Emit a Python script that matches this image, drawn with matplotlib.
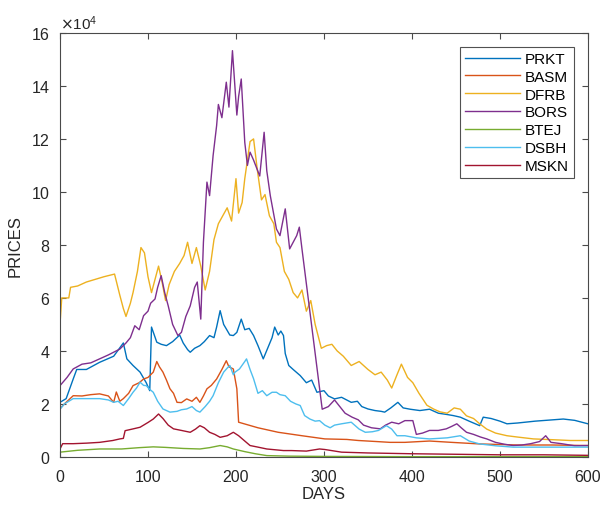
import matplotlib
matplotlib.use('Agg')
import matplotlib.pyplot as plt
from matplotlib.ticker import ScalarFormatter, MultipleLocator


# values, in units of 1e4
PRKT_DAYS = [0, 7, 15, 19, 30, 45, 61, 72, 76, 83, 91, 98, 102, 104, 110, 115, 121, 128,
             136, 140, 145, 148, 153, 159, 164, 170, 175, 178, 182, 186, 189, 193, 197,
             201, 206, 210, 215, 220, 225, 231, 236, 241, 244, 248, 251, 254, 256, 260,
             265, 273, 280, 286, 292, 300, 305, 312, 320, 331, 338, 343, 350, 358, 365,
             369, 376, 384, 390, 398, 409, 420, 430, 440, 447, 455, 465, 477, 481, 490,
             500, 508, 520, 540, 560, 572, 585, 600]
PRKT = [2.06, 2.2, 2.94, 3.3, 3.3, 3.57, 3.8, 4.3, 3.7, 3.45, 3.2, 2.8, 2.5, 4.9, 4.33,
        4.25, 4.2, 4.35, 4.6, 4.3, 4.05, 3.95, 4.1, 4.2, 4.35, 4.58, 4.5, 4.9, 5.52, 5.0,
        4.83, 4.6, 4.58, 4.7, 5.2, 4.8, 4.85, 4.58, 4.2, 3.7, 4.1, 4.5, 4.9, 4.6, 4.75,
        4.58, 3.9, 3.45, 3.3, 3.07, 2.8, 2.9, 2.44, 2.5, 2.3, 2.19, 2.25, 2.06, 2.1, 1.9,
        1.81, 1.75, 1.72, 1.69, 1.85, 2.06, 1.85, 1.8, 1.75, 1.8, 1.65, 1.6, 1.56, 1.5,
        1.35, 1.18, 1.5, 1.45, 1.35, 1.25, 1.28, 1.35, 1.4, 1.43, 1.38, 1.25]

BASM_DAYS = [0, 5, 15, 25, 35, 45, 55, 61, 64, 68, 72, 78, 83, 90, 95, 100, 106, 110, 113,
             117, 121, 125, 129, 133, 138, 144, 150, 155, 159, 163, 167, 172, 178, 184,
             189, 192, 197, 201, 203, 225, 248, 275, 301, 326, 339, 360, 375, 392, 420,
             445, 477, 520, 560, 600]
BASM = [1.82, 2.0, 2.31, 2.3, 2.35, 2.38, 2.3, 2.06, 2.45, 2.1, 2.2, 2.4, 2.69, 2.8, 2.94,
        3.0, 3.2, 3.6, 3.4, 3.2, 2.9, 2.57, 2.4, 2.06, 2.05, 2.19, 2.1, 2.25, 2.06, 2.3,
        2.57, 2.7, 2.94, 3.3, 3.63, 3.4, 3.32, 2.57, 1.31, 1.1, 0.93, 0.8, 0.68, 0.66,
        0.62, 0.58, 0.55, 0.55, 0.6, 0.55, 0.49, 0.45, 0.45, 0.43]

DFRB_DAYS = [0, 2, 10, 12, 20, 30, 40, 50, 62, 68, 72, 75, 80, 83, 88, 92, 96, 100, 104,
             108, 112, 116, 120, 124, 130, 136, 141, 145, 150, 155, 160, 165, 170, 175,
             180, 185, 190, 195, 200, 203, 207, 210, 216, 220, 224, 229, 233, 238, 243,
             246, 250, 255, 260, 265, 270, 275, 280, 285, 290, 297, 303, 309, 315, 322,
             331, 340, 350, 358, 365, 372, 377, 383, 388, 395, 401, 408, 417, 425, 432,
             440, 448, 455, 462, 470, 477, 485, 495, 508, 520, 538, 560, 580, 600]
DFRB = [5.0, 6.0, 6.0, 6.4, 6.45, 6.6, 6.7, 6.8, 6.9, 6.1, 5.6, 5.3, 5.8, 6.2, 7.0, 7.9,
        7.7, 6.8, 6.2, 6.7, 7.2, 6.6, 5.9, 6.5, 7.0, 7.3, 7.6, 8.1, 7.3, 7.9, 7.2, 6.3,
        7.0, 8.2, 8.8, 9.1, 9.4, 8.9, 10.5, 9.2, 9.6, 10.5, 11.9, 12.0, 10.9, 9.7, 9.9,
        9.1, 8.8, 8.1, 7.9, 7.0, 6.7, 6.2, 6.0, 6.3, 5.5, 5.9, 5.0, 4.1, 4.2, 4.25, 4.0,
        3.8, 3.45, 3.6, 3.3, 3.1, 3.2, 2.9, 2.6, 3.1, 3.5, 3.0, 2.8, 2.4, 1.95, 1.8, 1.7,
        1.65, 1.85, 1.8, 1.55, 1.45, 1.25, 1.05, 0.9, 0.8, 0.75, 0.68, 0.65, 0.62, 0.62]

BORS_DAYS = [0, 8, 15, 25, 35, 45, 55, 68, 75, 80, 85, 90, 95, 100, 103, 108, 111, 115,
             119, 123, 128, 134, 138, 143, 148, 153, 156, 160, 163, 167, 170, 174, 178,
             180, 184, 189, 192, 196, 201, 203, 206, 210, 213, 216, 220, 227, 232, 235,
             239, 246, 250, 256, 261, 269, 272, 275, 298, 305, 312, 318, 324, 332, 339,
             345, 354, 364, 370, 377, 385, 392, 401, 405, 412, 420, 430, 439, 445, 451,
             456, 462, 470, 478, 485, 495, 505, 515, 525, 535, 545, 552, 558, 570, 585, 600]
BORS = [2.69, 3.0, 3.32, 3.5, 3.55, 3.7, 3.85, 4.07, 4.3, 4.5, 4.95, 4.8, 5.33, 5.5, 5.8,
        5.96, 6.4, 6.84, 6.2, 5.7, 5.0, 4.58, 4.7, 5.3, 5.7, 6.4, 6.6, 5.2, 8.1, 10.37,
        9.86, 11.37, 12.5, 13.3, 12.8, 14.14, 13.2, 15.33, 12.9, 13.6, 14.26, 11.87,
        11.0, 11.5, 11.2, 10.6, 12.25, 10.8, 9.86, 8.6, 8.35, 9.36, 7.85, 8.35, 8.67,
        7.85, 1.8, 1.9, 2.15, 1.9, 1.65, 1.5, 1.4, 1.2, 1.1, 1.06, 1.2, 1.31, 1.25, 1.37,
        1.37, 0.85, 0.9, 1.0, 1.0, 1.06, 1.15, 1.25, 1.1, 0.93, 0.85, 0.75, 0.68, 0.55,
        0.48, 0.43, 0.45, 0.5, 0.58, 0.8, 0.55, 0.5, 0.42, 0.43]

BTEJ_DAYS = [0, 20, 45, 70, 90, 106, 120, 140, 159, 170, 182, 190, 197, 210, 222, 235,
             260, 300, 400, 500, 600]
BTEJ = [0.18, 0.25, 0.3, 0.3, 0.35, 0.38, 0.36, 0.32, 0.3, 0.35, 0.43, 0.38, 0.3, 0.2,
        0.12, 0.05, 0.03, 0.02, 0.01, 0.01, 0.01]

DSBH_DAYS = [0, 5, 15, 30, 45, 55, 61, 66, 72, 78, 83, 87, 91, 95, 98, 102, 106, 111, 117,
             121, 125, 133, 138, 144, 150, 155, 159, 165, 170, 174, 180, 186, 190, 193,
             197, 199, 204, 210, 212, 216, 220, 225, 230, 235, 241, 246, 250, 256, 262,
             268, 273, 278, 284, 290, 295, 301, 307, 312, 320, 331, 340, 347, 355, 362,
             371, 377, 383, 392, 405, 420, 440, 455, 465, 477, 495, 515, 550, 600]
DSBH = [1.8, 2.0, 2.2, 2.2, 2.2, 2.15, 2.06, 2.1, 1.94, 2.2, 2.44, 2.6, 2.82, 2.7, 2.69,
        2.55, 2.44, 2.1, 1.81, 1.75, 1.69, 1.72, 1.78, 1.81, 1.9, 1.75, 1.69, 1.9, 2.1,
        2.31, 2.8, 3.2, 3.35, 3.45, 3.1, 3.2, 3.32, 3.6, 3.7, 3.3, 2.95, 2.4, 2.5, 2.31,
        2.44, 2.44, 2.35, 2.31, 2.1, 2.0, 1.94, 1.56, 1.43, 1.35, 1.37, 1.2, 1.1, 1.2,
        1.25, 1.31, 1.05, 0.93, 0.95, 1.0, 1.18, 1.05, 0.8, 0.8, 0.72, 0.68, 0.72, 0.8,
        0.6, 0.49, 0.42, 0.37, 0.37, 0.37]

MSKN_DAYS = [0, 3, 15, 30, 45, 60, 68, 72, 74, 82, 91, 100, 106, 112, 117, 123, 129, 138,
             148, 154, 159, 164, 170, 176, 182, 190, 197, 203, 210, 216, 225, 235, 254,
             263, 280, 295, 301, 320, 350, 400, 450, 500, 550, 600]
MSKN = [0.3, 0.5, 0.5, 0.52, 0.55, 0.62, 0.68, 0.7, 0.99, 1.05, 1.12, 1.3, 1.43, 1.62,
        1.45, 1.2, 1.06, 1.0, 0.93, 1.05, 1.18, 1.1, 0.93, 0.85, 0.74, 0.8, 0.93, 0.8, 0.6,
        0.43, 0.37, 0.3, 0.24, 0.24, 0.22, 0.3, 0.28, 0.18, 0.15, 0.12, 0.1, 0.08, 0.08,
        0.06]

_SERIES = [
    ('PRKT', PRKT_DAYS, PRKT, '#0072BD'),
    ('BASM', BASM_DAYS, BASM, '#D95319'),
    ('DFRB', DFRB_DAYS, DFRB, '#EDB120'),
    ('BORS', BORS_DAYS, BORS, '#7E2F8E'),
    ('BTEJ', BTEJ_DAYS, BTEJ, '#77AC30'),
    ('DSBH', DSBH_DAYS, DSBH, '#4DBEEE'),
    ('MSKN', MSKN_DAYS, MSKN, '#A2142F'),
]

_AXIS_COLOR = '#4a4a4a'


def main():
    plt.rcParams['font.family'] = ['Liberation Sans', 'DejaVu Sans']

    fig = plt.figure(figsize=(6.03, 5.06), dpi=100)
    ax = fig.add_axes([0.0995, 0.095, 0.8755, 0.838])

    for name, days, vals, color in _SERIES:
        ax.plot(days, [v * 1e4 for v in vals], color=color, lw=1.0, label=name)

    ax.set_xlim(0, 600)
    ax.set_ylim(0, 16e4)
    ax.xaxis.set_major_locator(MultipleLocator(100))
    ax.yaxis.set_major_locator(MultipleLocator(2e4))

    # MATLAB keeps the exponent at 10^4
    fmt = ScalarFormatter(useMathText=True)
    fmt.set_powerlimits((4, 4))
    ax.yaxis.set_major_formatter(fmt)
    ax.yaxis.get_offset_text().set_fontsize(11)
    ax.yaxis.get_offset_text().set_color('#262626')

    ax.tick_params(direction='in', top=True, right=True, length=4, width=0.8,
                   colors=_AXIS_COLOR, labelcolor='#262626', labelsize=11.5)
    ax.tick_params(axis='x', pad=9)
    ax.tick_params(axis='y', pad=7)
    for sp in ax.spines.values():
        sp.set_color(_AXIS_COLOR)
        sp.set_linewidth(0.8)

    ax.set_xlabel('DAYS', fontsize=12, color='#262626', labelpad=1)
    ax.set_ylabel('PRICES', fontsize=12, color='#262626', labelpad=6)

    leg = ax.legend(loc='upper right', fontsize=11, frameon=True, fancybox=False,
                    handlelength=3.6, labelspacing=0.25, borderaxespad=0.9,
                    handletextpad=0.3, borderpad=0.35)
    leg.get_frame().set_edgecolor('#262626')
    leg.get_frame().set_linewidth(0.8)

    fig.savefig('out.png', dpi=100)


if __name__ == '__main__':
    main()
